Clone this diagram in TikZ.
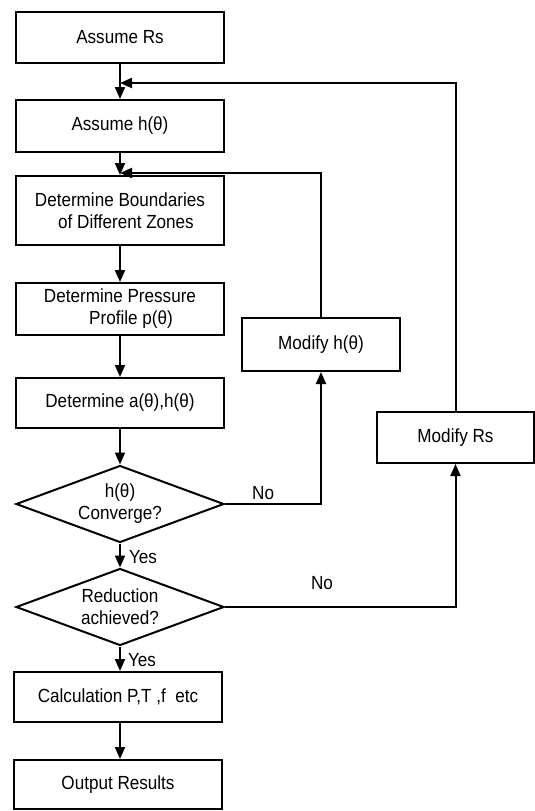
\documentclass[tikz,border=0pt]{standalone}
\usepackage{fontspec}
\setmainfont{Liberation Sans}[FakeStretch=0.9]
\usetikzlibrary{shapes.geometric,arrows.meta}
\begin{document}
\begin{tikzpicture}[x=1pt,y=-1pt,
  every node/.style={font=\fontsize{19}{22}\selectfont},
  box/.style={draw, line width=2pt, minimum width=208pt, inner sep=0pt, align=center},
  sbox/.style={draw, line width=2pt, inner sep=0pt, align=center},
  dec/.style={draw, line width=2pt, shape=diamond, shape aspect=2.7, inner sep=0pt,
              minimum width=208pt, minimum height=77pt, align=center},
  lbl/.style={inner sep=0pt},
  conn/.style={line width=2pt, -{Triangle[length=12pt,width=10pt]}}]
\useasboundingbox (0,0) rectangle (535,811);
\node[box, minimum height=51pt] (rs) at (120,37.5) {Assume Rs};
\node[box, minimum height=52pt] (h) at (120,126) {Assume h(θ)};
\node[box, minimum height=69pt] (bnd) at (120,210.5) {Determine Boundaries\\\hspace*{12pt}of Different Zones};
\node[box, minimum height=52pt] (prs) at (120,309) {Determine Pressure\\\hspace*{22pt}Profile p(θ)};
\node[box, minimum height=50pt] (ah) at (120,403) {Determine a(θ),h(θ)};
\node[dec] (d1) at (120,504) {h(θ)\\Converge?};
\node[dec] (d2) at (120,607) {Reduction\\achieved?};
\node[box, minimum height=50pt] (calc) at (118,697) {Calculation P,T ,f\ \ etc};
\node[box, minimum height=49pt] (out) at (118,784.5) {Output Results};
\node[sbox, minimum width=158pt, minimum height=53pt] (modh) at (321,344.5) {Modify h(θ)};
\node[sbox, minimum width=157pt, minimum height=51pt] (modrs) at (455.5,437.5) {Modify Rs};
\coordinate (j1) at (120,83);
\coordinate (j2) at (120,173);
\draw[conn] (rs) -- (h);
\draw[conn] (h) -- (bnd);
\draw[conn] (bnd) -- (prs);
\draw[conn] (prs) -- (ah);
\draw[conn] (ah) -- (d1);
\draw[conn] (d1) -- (d2);
\draw[conn] (d2) -- (calc.north -| d2.south);
\draw[conn] (calc.south -| d2.south) -- (out.north -| d2.south);
\draw[conn] (d1.east) -| (modh.south);
\draw[conn] (d2.east) -| (modrs.south);
\draw[conn] (modh.north) |- (j2);
\draw[conn] (modrs.north) |- (j1);
\node[lbl, anchor=south west] (no1) at (252,500) {No};
\node[lbl] (no2) at (322,583) {No};
\node[lbl] (yes1) at (143,557) {Yes};
\node[lbl] (yes2) at (142,660) {Yes};
\end{tikzpicture}
\end{document}
